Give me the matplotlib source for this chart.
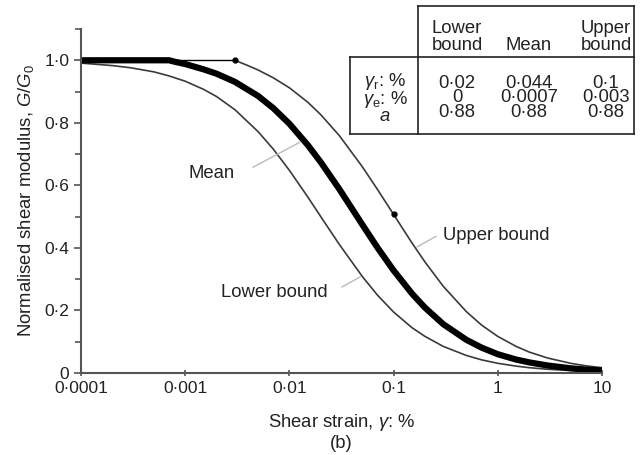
import numpy as np
import matplotlib
matplotlib.use('Agg')
import matplotlib.pyplot as plt
from matplotlib.lines import Line2D

plt.rcParams['font.family'] = ['Liberation Sans', 'DejaVu Sans']
plt.rcParams['mathtext.fontset'] = 'custom'
plt.rcParams['mathtext.rm'] = 'Liberation Sans'
plt.rcParams['mathtext.it'] = 'Liberation Sans:italic'

# values
strain_lower = [0.0001, 0.0002, 0.0003, 0.0005, 0.0007, 0.001, 0.0015, 0.002, 0.003, 0.005, 0.007,
                0.01, 0.015, 0.02, 0.03, 0.05, 0.07, 0.1, 0.15, 0.2, 0.3, 0.5, 0.7,
                1, 1.5, 2, 3, 5, 7, 10]
g_lower = [0.991, 0.983, 0.976, 0.963, 0.950, 0.933, 0.907, 0.884, 0.842, 0.772, 0.716,
           0.648, 0.563, 0.500, 0.412, 0.309, 0.249, 0.195, 0.145, 0.117, 0.085, 0.056, 0.042,
           0.031, 0.022, 0.017, 0.012, 0.008, 0.006, 0.004]

strain_mean = [0.0001, 0.0007, 0.0008, 0.001, 0.0015, 0.002, 0.003, 0.005, 0.007,
               0.01, 0.015, 0.02, 0.03, 0.05, 0.07, 0.1, 0.15, 0.2, 0.3, 0.5, 0.7,
               1, 1.5, 2, 3, 5, 7, 10]
g_mean = [1.0, 1.0, 0.995, 0.988, 0.971, 0.957, 0.931, 0.886, 0.847,
          0.797, 0.729, 0.674, 0.589, 0.475, 0.401, 0.328, 0.254, 0.209, 0.156, 0.106, 0.081,
          0.060, 0.043, 0.034, 0.024, 0.015, 0.011, 0.008]

strain_upper = [0.003, 0.004, 0.005, 0.007, 0.01, 0.015, 0.02, 0.03, 0.05, 0.07, 0.1,
                0.15, 0.2, 0.3, 0.5, 0.7, 1, 1.5, 2, 3, 5, 7, 10]
g_upper = [1.0, 0.983, 0.969, 0.944, 0.912, 0.866, 0.826, 0.760, 0.660, 0.587, 0.507,
           0.416, 0.355, 0.277, 0.196, 0.153, 0.117, 0.085, 0.067, 0.048, 0.031, 0.023, 0.017]

# elastic plateau of the upper bound and the two marked points
plateau_x = [0.0007, 0.003]
plateau_y = [1.0, 1.0]
dots_x = [0.003, 0.1]
dots_y = [1.0, 0.507]

xticks = [0.0001, 0.001, 0.01, 0.1, 1, 10]
xlabels = ['0·0001', '0·001', '0·01', '0·1', '1', '10']
yticks = [0, 0.2, 0.4, 0.6, 0.8, 1.0]
ylabels = ['0', '0·2', '0·4', '0·6', '0·8', '1·0']

table_cols = ['Lower\nbound', 'Mean', 'Upper\nbound']
table_rows = [r'$\gamma_{\rm r}$: %', r'$\gamma_{\rm e}$: %', r'$a$']
table_vals = [['0·02', '0·044', '0·1'],
              ['0', '0·0007', '0·003'],
              ['0·88', '0·88', '0·88']]

W, H = 643, 455
fs = 13.3
txt = '#222222'
fig = plt.figure(figsize=(6.43, 4.55), dpi=100)
ax = fig.add_axes([81 / W, 1 - 373 / H, (602 - 81) / W, (373 - 29) / H])

ax.plot(strain_lower, g_lower, color='#3a3a3a', lw=1.2)
ax.plot(strain_upper, g_upper, color='#3a3a3a', lw=1.2)
ax.plot(plateau_x, plateau_y, color='black', lw=1.0)
ax.plot(strain_mean, g_mean, color='black', lw=4.5, solid_capstyle='butt')
ax.plot(dots_x, dots_y, 'o', color='black', ms=3.5)

ax.set_xscale('log')
ax.set_xlim(0.0001, 10)
ax.set_ylim(0, 1.1)
ax.set_xticks(xticks)
ax.set_xticklabels(xlabels)
ax.xaxis.set_minor_locator(plt.NullLocator())
ax.set_yticks(yticks)
ax.set_yticklabels(ylabels)
ax.set_yticks([0.1, 0.3, 0.5, 0.7, 0.9, 1.1], minor=True)

for s in ['top', 'right']:
    ax.spines[s].set_visible(False)
for s in ['left', 'bottom']:
    ax.spines[s].set_color('#555555')
    ax.spines[s].set_linewidth(1.5)
ax.tick_params(axis='both', which='both', colors='#555555', labelcolor=txt,
               labelsize=12.5, width=1.2)
ax.tick_params(axis='y', which='major', length=5, direction='out')
ax.tick_params(axis='y', which='minor', length=4, direction='out')
ax.tick_params(axis='x', which='major', length=5, direction='inout')

ax.set_xlabel('Shear strain, $\\gamma$: %', fontsize=fs, color=txt, labelpad=11)
ax.set_ylabel('Normalised shear modulus, $G/G_0$', fontsize=fs, color=txt, labelpad=6)
fig.text(341 / W, 1 - 443 / H, '(b)', fontsize=fs, ha='center', va='center', color=txt)

# curve labels with leader lines
ax.plot([0.00448, 0.0126], [0.658, 0.738], color='#bbbbbb', lw=1)
ax.text(0.003, 0.639, 'Mean', fontsize=fs, ha='right', va='center', color=txt)
ax.plot([0.168, 0.255], [0.403, 0.437], color='#bbbbbb', lw=1)
ax.text(0.295, 0.441, 'Upper bound', fontsize=fs, ha='left', va='center', color=txt)
ax.plot([0.032, 0.0476], [0.275, 0.307], color='#bbbbbb', lw=1)
ax.text(0.0234, 0.259, 'Lower bound', fontsize=fs, ha='right', va='center', color=txt)

# parameter table
def fx(px):
    return px / W

def fy(py):
    return 1 - py / H

for (x0, y0, x1, y1) in [(418, 6, 634, 6), (350, 57, 634, 57), (350, 134, 634, 134),
                         (350, 57, 350, 134), (418, 6, 418, 134), (634, 6, 634, 134)]:
    fig.add_artist(Line2D([fx(x0), fx(x1)], [fy(y0), fy(y1)], color=txt, lw=1.2))

col_x = [457, 529, 606]
for cx, name in zip(col_x, table_cols):
    fig.text(fx(cx), fy(54), name, fontsize=fs, ha='center', va='bottom',
             linespacing=1.0, color=txt)

# each table column as one block of lines
fig.text(fx(385), fy(98), '\n'.join(table_rows), fontsize=fs, ha='center', va='center',
         linespacing=0.8, color=txt)
for j, cx in enumerate(col_x):
    col = '\n'.join(row[j] for row in table_vals)
    fig.text(fx(cx), fy(98), col, fontsize=fs, ha='center', va='center',
             linespacing=0.8, color=txt)

fig.savefig('out.png', dpi=100)
